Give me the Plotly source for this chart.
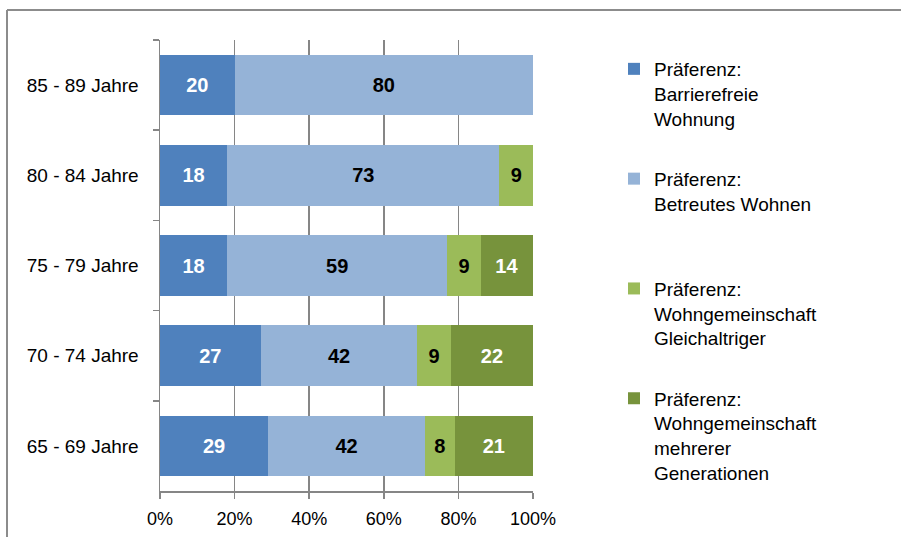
import plotly.graph_objects as go

categories = ["85 - 89 Jahre", "80 - 84 Jahre", "75 - 79 Jahre", "70 - 74 Jahre", "65 - 69 Jahre"]
barrierefrei = [20, 18, 18, 27, 29]
betreut = [80, 73, 59, 42, 42]
wg_gleich = [None, 9, 9, 9, 8]
wg_mehr = [None, None, 14, 22, 21]

series_names = [
    "Präferenz:<br>Barrierefreie<br>Wohnung<br> ",
    "Präferenz:<br>Betreutes Wohnen<br> <br> ",
    "Präferenz:<br>Wohngemeinschaft<br>Gleichaltriger<br> ",
    "Präferenz:<br>Wohngemeinschaft<br>mehrerer<br>Generationen",
]
series_values = [barrierefrei, betreut, wg_gleich, wg_mehr]
colors = ["#4F81BD", "#95B3D7", "#9BBB59", "#77933C"]
text_colors = ["white", "black", "black", "white"]

FONT = "Liberation Sans, Arial, sans-serif"

fig = go.Figure()
for name, vals, col, tcol in zip(series_names, series_values, colors, text_colors):
    fig.add_trace(go.Bar(
        y=categories, x=vals, name=name, orientation="h",
        marker=dict(color=col, line=dict(width=0)),
        text=[("" if v is None else str(v)) for v in vals],
        textposition="inside", insidetextanchor="middle",
        textfont=dict(family=FONT, size=20, color=tcol, weight="bold"),
        constraintext="none",
        legendgroup=name,
        hoverinfo="skip",
    ))

fig.update_layout(
    width=901, height=537,
    barmode="stack", bargap=0.33,
    paper_bgcolor="white", plot_bgcolor="white",
    margin=dict(l=160, r=368, t=40, b=46),
    font=dict(family=FONT, size=18, color="black"),
    showlegend=True,
    legend=dict(
        x=(614 - 160) / 373, xanchor="left",
        y=(491 - 50) / 451, yanchor="top",
        traceorder="grouped", valign="top",
        tracegroupgap=8,
        font=dict(family=FONT, size=19, color="black"),
        bgcolor="rgba(0,0,0,0)",
    ),
    xaxis=dict(
        range=[0, 100], dtick=20, ticksuffix="%",
        showgrid=True, gridcolor="#868686", gridwidth=1.5,
        showline=True, linecolor="#868686", linewidth=1.5,
        ticks="outside", ticklen=6, tickcolor="#868686", tickwidth=1.5,
        tickfont=dict(family=FONT, size=18, color="black"),
        ticklabelstandoff=5,
        zeroline=False, fixedrange=True, automargin=False,
    ),
    yaxis=dict(
        autorange="reversed",
        showline=True, linecolor="#868686", linewidth=1.5,
        ticks="outside", ticklen=6, tickcolor="#868686", tickwidth=1.5,
        tickson="boundaries",
        tickfont=dict(family=FONT, size=19, color="black"),
        ticklabelstandoff=16,
        showgrid=False, automargin=False, fixedrange=True,
    ),
    shapes=[
        dict(type="line", xref="paper", yref="paper",
             x0=(7 - 160) / 373, x1=(901 - 160) / 373,
             y0=(491 - 10) / 451, y1=(491 - 10) / 451,
             line=dict(color="#8C8C8C", width=2)),
        dict(type="line", xref="paper", yref="paper",
             x0=(7 - 160) / 373, x1=(7 - 160) / 373,
             y0=(491 - 10) / 451, y1=(491 - 540) / 451,
             line=dict(color="#8C8C8C", width=2)),
    ],
)

fig.write_html(
    "out.html",
    config={"displayModeBar": False, "staticPlot": True},
    post_script="document.body.style.margin='0';document.body.style.overflow='hidden';",
)
